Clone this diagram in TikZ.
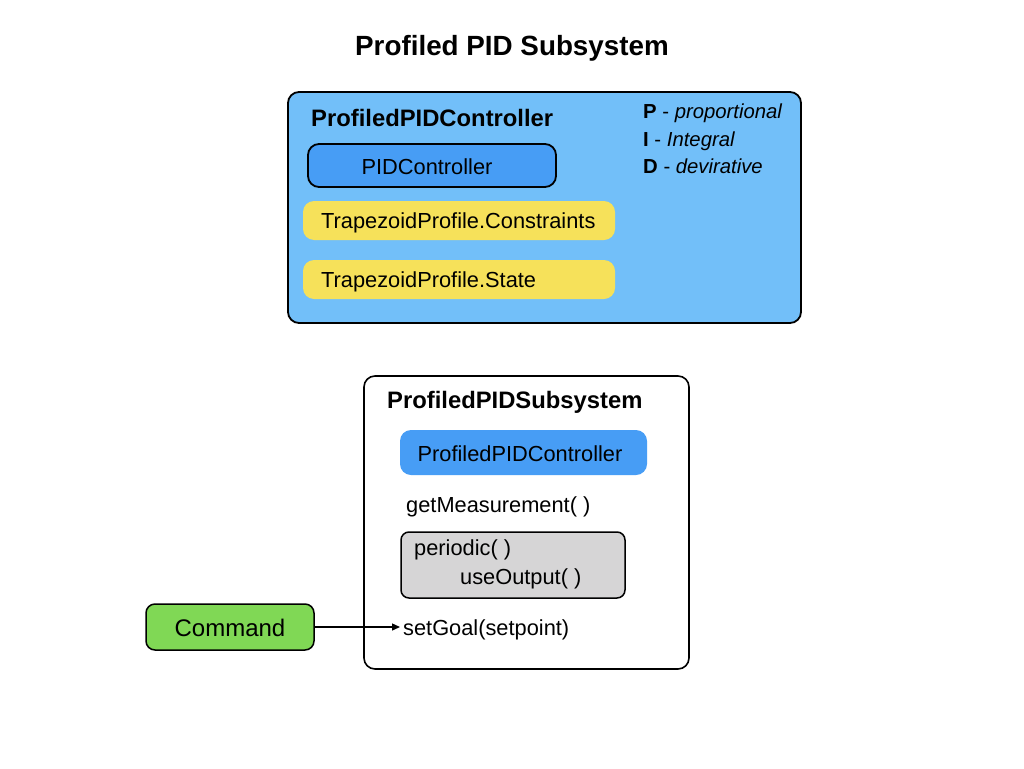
\documentclass[tikz,border=0pt]{standalone}
\usepackage{fontspec}
\setmainfont{Liberation Sans}
\usetikzlibrary{arrows.meta}
\definecolor{lightblue}{HTML}{72BFF9}
\definecolor{midblue}{HTML}{479DF5}
\definecolor{yel}{HTML}{F6E15A}
\definecolor{grn}{HTML}{80D855}
\definecolor{gry}{HTML}{D6D5D6}
\tikzset{
  box/.style={rounded corners=11pt, inner sep=0pt},
  bordered/.style={box, draw=black, line width=1.8pt},
  txt/.style={inner sep=0pt, font=\fontsize{21.8}{26}\selectfont},
  btxt/.style={inner sep=0pt, font=\fontsize{23.8}{28}\selectfont\bfseries},
  ltxt/.style={inner sep=0pt, anchor=base west, font=\fontsize{20.3}{24}\selectfont},
}
\begin{document}
\begin{tikzpicture}[x=1pt,y=-1pt]
\useasboundingbox[fill=white] (0,0) rectangle (1024,768);
% title
\node[inner sep=0pt, font=\fontsize{27.8}{32}\selectfont\bfseries] (title) at (512,48) {Profiled PID Subsystem};
% top container
\node[bordered, fill=lightblue, minimum width=513pt, minimum height=231pt] (top) at (544.5,207.5) {};
\node[btxt, anchor=west] (toptitle) at (311,118) {ProfiledPIDController};
\node[bordered, fill=midblue, minimum width=248pt, minimum height=43pt] (pid) at (432,165.5) {};
\node[txt] (pidt) at (427,167) {PIDController};
\node[box, fill=yel, minimum width=312pt, minimum height=39pt] (y1) at (459,220.5) {};
\node[txt, anchor=west] (y1t) at (321,222.5) {TrapezoidProfile.Constraints};
\node[box, fill=yel, minimum width=312pt, minimum height=39pt] (y2) at (459,279.5) {};
\node[txt, anchor=west] (y2t) at (321,281.5) {TrapezoidProfile.State};
\node[ltxt] (lp) at (643,118.5) {\textbf{P} - \textit{proportional}};
\node[ltxt] (li) at (643,146.5) {\textbf{I} - \textit{Integral}};
\node[ltxt] (ld) at (643,173.5) {\textbf{D} - \textit{devirative}};
% lower container
\node[bordered, fill=white, line width=1.6pt, minimum width=325pt, minimum height=293pt] (sub) at (526.5,522.5) {};
\node[btxt, anchor=west] (subt) at (387,402) {ProfiledPIDSubsystem};
\node[box, fill=midblue, minimum width=247pt, minimum height=45pt] (ppc) at (523.5,452.5) {};
\node[txt] (ppct) at (520,454) {ProfiledPIDController};
\node[txt, anchor=west] (gm) at (406,507) {getMeasurement( )};
\node[bordered, rounded corners=8pt, line width=1.5pt, fill=gry, minimum width=224pt, minimum height=66pt] (per) at (513,565) {};
\node[txt, anchor=west] (pert) at (414,550) {periodic( )};
\node[txt, anchor=west] (uo) at (460,579) {useOutput( )};
\node[txt, anchor=west] (sg) at (403,630) {setGoal(setpoint)};
\coordinate (tipend) at ([xshift=-3pt]sg.west);
% command
\node[bordered, rounded corners=9pt, line width=1.5pt, fill=grn, minimum width=168pt, minimum height=46pt] (cmd) at (230,627) {};
\node[inner sep=0pt, font=\fontsize{24}{28}\selectfont] (cmdt) at (230,628) {Command};
\draw[line width=1.4pt, -{Triangle[length=8pt,width=7pt]}] (cmd.east) -- (cmd.east -| tipend);
\end{tikzpicture}
\end{document}
